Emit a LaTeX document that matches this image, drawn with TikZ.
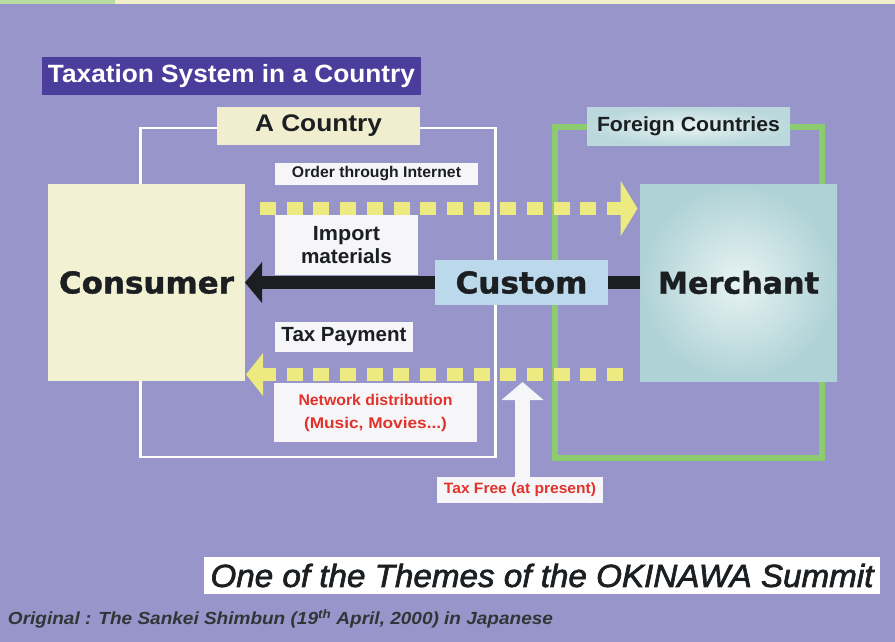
\documentclass[tikz,border=0pt]{standalone}
\usepackage{fontspec}
\usepackage{graphicx}
\setmainfont{Liberation Sans}
\newfontfamily\heavyfont{DejaVu Sans}[BoldFeatures={FakeBold=1.2}]
\newfontfamily\themefont{Liberation Sans}[ItalicFeatures={FakeBold=2}]
\usetikzlibrary{arrows.meta}

% palette
\definecolor{bgpurple}{HTML}{9795C9}
\definecolor{stripgreen}{HTML}{B8DBA0}
\definecolor{stripyellow}{HTML}{F2F0CC}
\definecolor{titleblue}{HTML}{4B3D9C}
\definecolor{cream}{HTML}{F3F1D3}
\definecolor{labelcream}{HTML}{F0EECF}
\definecolor{paleblue}{HTML}{BCD9EC}
\definecolor{tealouter}{HTML}{AFD2D6}
\definecolor{tealinner}{HTML}{E8F3F3}
\definecolor{framegreen}{HTML}{8CCB6E}
\definecolor{dotyellow}{HTML}{ECEA80}
\definecolor{ink}{HTML}{1B1F22}
\definecolor{alertred}{HTML}{E0332C}
\definecolor{paper}{HTML}{F6F5F7}

% squeeze a text horizontally to a given width, height unchanged
\newcommand\hfit[2]{\resizebox{#1}{\height}{#2}}

\tikzset{
  box/.style={inner sep=0pt, outer sep=0pt, align=center, text=ink},
  whitebox/.style={box, fill=paper},
  heavy/.style={font=\heavyfont\bfseries\fontsize{30}{34}\selectfont},
  dotflow/.style={dotyellow, line width=13pt, dash pattern=on 16pt off 10.7pt},
  solidflow/.style={ink, line width=13pt, -{Triangle[length=17pt,width=40pt]}},
  upflow/.style={paper, line width=15pt, -{Triangle[length=18pt,width=41pt]}},
}

\begin{document}
\begin{tikzpicture}[x=1pt,y=-1pt]
\useasboundingbox (0,0) rectangle (895,642);
\fill[bgpurple] (0,0) rectangle (895,642);
\fill[stripgreen] (0,0) rectangle (115,4);
\fill[stripyellow] (115,0) rectangle (895,4);

% heading
\node[box, fill=titleblue, text=white, minimum width=379pt, minimum height=38pt,
      font=\bfseries\fontsize{25}{28}\selectfont] (heading) at (231.5,76)
      {\hfit{367pt}{Taxation System in a Country}};

% country frames
\draw[white, line width=2.5pt] (140.5,128) rectangle (495.5,457);
\draw[framegreen, line width=6pt] (555,127) rectangle (821.5,458);

% parties
\node[box, fill=cream, minimum width=197pt, minimum height=197pt, heavy]
      (consumer) at (146.5,282.5) {\hfit{175pt}{Consumer}};
\node[box, inner color=tealinner, outer color=tealouter, minimum width=197pt,
      minimum height=197pt, heavy]
      (merchant) at (738.5,282.5) {\hfit{161pt}{Merchant}};

% ordering and network distribution flows
\coordinate (ordA) at ([shift={(15,-74)}]consumer.east);
\coordinate (ordB) at ([shift={(-2.5,-74)}]merchant.west);
\draw[dotflow, -{Triangle[length=17pt,width=55pt]}] (ordA) -- (ordB);

\coordinate (netA) at ([shift={(-17,92)}]merchant.west);
\coordinate (netB) at ([shift={(1,92)}]consumer.east);
\draw[dotflow, -{Triangle[length=17pt,width=42pt]}] (netA) -- (netB);

% physical goods through customs
\draw[solidflow] (merchant.west) -- (consumer.east);

% labels
\node[box, fill=labelcream, minimum width=203pt, minimum height=38pt,
      font=\bfseries\fontsize{24}{28}\selectfont] (acountry) at (318.5,126)
      {\hfit{127pt}{A Country}};
\node[box, inner color=tealinner, outer color=tealouter!85!white, minimum width=203pt,
      minimum height=37pt, font=\bfseries\fontsize{20.5}{24}\selectfont]
      (foreign) at (688.5,126.5) {\hfit{183pt}{Foreign Countries}};
\node[whitebox, minimum width=203pt, minimum height=22pt,
      font=\bfseries\fontsize{15.5}{18}\selectfont] (order) at (376.5,174)
      {\hfit{169pt}{Order through Internet}};
\node[whitebox, minimum width=143pt, minimum height=60pt,
      font=\bfseries\fontsize{20.5}{23.5}\selectfont] (import) at (346.5,245)
      {\hfit{67pt}{Import}\\\hfit{91pt}{materials}};
\node[box, fill=paleblue, minimum width=173pt, minimum height=45pt, heavy]
      (custom) at (521.5,282.5) {\hfit{132pt}{Custom}};
\node[whitebox, minimum width=138pt, minimum height=30pt,
      font=\bfseries\fontsize{20.5}{24}\selectfont] (taxpay) at (344,337)
      {\hfit{125pt}{Tax Payment}};
\node[whitebox, minimum width=203pt, minimum height=59pt, text=alertred,
      font=\bfseries\fontsize{15.5}{23}\selectfont] (network) at (375.5,412.5)
      {\hfit{154pt}{Network distribution}\\\hfit{143pt}{(Music, Movies...)}};
\node[whitebox, minimum width=166pt, minimum height=26pt, text=alertred,
      font=\bfseries\fontsize{15}{18}\selectfont] (taxfree) at (520,490)
      {\hfit{152pt}{Tax Free (at present)}};

% exemption pointer
\coordinate (taxtip) at ([shift={(2.5,-95)}]taxfree.north);
\draw[upflow] (taxfree.north -| taxtip) -- (taxtip);

% caption and source
\node[box, fill=white, minimum width=676pt, minimum height=37pt,
      font=\themefont\itshape\fontsize{32}{36}\selectfont] (theme) at (542,575.5)
      {\hfit{663pt}{One of the Themes of the OKINAWA Summit}};
\node[box, anchor=base west, text=ink!90!white,
      font=\bfseries\itshape\fontsize{17.5}{20}\selectfont] (source) at (8,624.5)
      {\hfit{545pt}{Original : The Sankei Shimbun (19\textsuperscript{th} April, 2000) in Japanese}};
\end{tikzpicture}
\end{document}
